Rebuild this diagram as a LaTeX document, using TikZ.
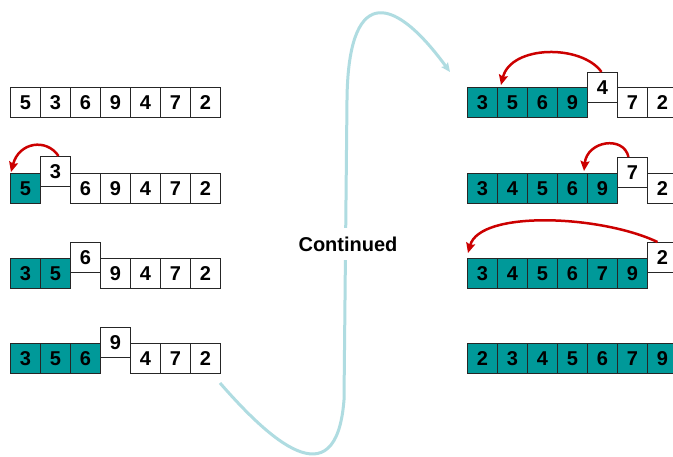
\documentclass[tikz,border=0pt]{standalone}
\usepackage{fontspec}
\setmainfont{Liberation Sans}
\usetikzlibrary{arrows.meta,calc}
\definecolor{tealfill}{RGB}{0,153,153}
\definecolor{arrred}{RGB}{204,0,0}
\definecolor{flowcyan}{RGB}{175,220,225}
\tikzset{
  cell/.style={draw=black!85, line width=1pt, fill=white, minimum width=30pt, minimum height=30pt,
    inner sep=0pt, anchor=north west, font=\fontsize{20}{20}\selectfont\bfseries},
  tcell/.style={cell, fill=tealfill},
  movearrow/.style={draw=arrred, line width=2.5pt, -{Stealth[length=10pt,width=9pt,inset=1.5pt]}},
  flow/.style={draw=flowcyan, line width=3pt, -{Stealth[length=9pt,width=8pt,inset=1.5pt]}},
  lbl/.style={font=\fontsize{20}{20}\selectfont\bfseries, fill=white, inner xsep=2pt, inner ysep=9pt}
}
\begin{document}
\begin{tikzpicture}[x=1pt,y=-1pt]
\clip (0,0) rectangle (673,457);
\fill[white] (0,0) rectangle (673,457);
% flow curve
\coordinate (fs) at (220,383);
\coordinate (fe) at (450,72);
\draw[flow] (fs) .. controls (268,438) and (336,502) .. (344,400) -- (347,100)
  .. controls (348,-10) and (390,-10) .. (fe);
\node[lbl] (cont) at (348,244) {Continued};
% left row 1
\foreach \d [count=\i] in {5,3,6,9,4,7,2}
  \node[cell] (a\i) at ({10+30*(\i-1)},87) {\d};
% left row 2
\node[tcell] (b1) at (10,173) {5};
\node[cell] (b2) at (40,156) {3};
\foreach \d [count=\i from 3] in {6,9,4,7,2}
  \node[cell] (b\i) at ({10+30*(\i-1)},173) {\d};
% left row 3
\foreach \d [count=\i] in {3,5}
  \node[tcell] (c\i) at ({10+30*(\i-1)},258) {\d};
\node[cell] (c3) at (70,242) {6};
\foreach \d [count=\i from 4] in {9,4,7,2}
  \node[cell] (c\i) at ({10+30*(\i-1)},258) {\d};
% left row 4
\foreach \d [count=\i] in {3,5,6}
  \node[tcell] (d\i) at ({10+30*(\i-1)},343) {\d};
\node[cell] (d4) at (100,327) {9};
\foreach \d [count=\i from 5] in {4,7,2}
  \node[cell] (d\i) at ({10+30*(\i-1)},343) {\d};
% right row 1
\foreach \d [count=\i] in {3,5,6,9}
  \node[tcell] (e\i) at ({467+30*(\i-1)},87) {\d};
\node[cell] (e5) at (587,72) {4};
\foreach \d [count=\i from 6] in {7,2}
  \node[cell] (e\i) at ({467+30*(\i-1)},87) {\d};
% right row 2
\foreach \d [count=\i] in {3,4,5,6,9}
  \node[tcell] (f\i) at ({467+30*(\i-1)},173) {\d};
\node[cell] (f6) at (617,157) {7};
\node[cell] (f7) at (647,173) {2};
% right row 3
\foreach \d [count=\i] in {3,4,5,6,7,9}
  \node[tcell] (g\i) at ({467+30*(\i-1)},258) {\d};
\node[cell] (g7) at (647,242) {2};
% right row 4
\foreach \d [count=\i] in {2,3,4,5,6,7,9}
  \node[tcell] (h\i) at ({467+30*(\i-1)},343) {\d};
% insertion arrows
\draw[movearrow] ($(b2.north)+(3,0)$) .. controls +(-12,-18) and +(8,-30) .. ($(b1.north west)+(1,-1)$);
\draw[movearrow] ($(e5.north)+(-1,0)$) .. controls +(-20,-28) and +(10,-40) .. ($(e1.north east)+(3,-2)$);
\draw[movearrow] ($(f6.north)+(-4,0)$) .. controls +(-5,-22) and +(3,-30) .. ($(f4.north east)+(-4,-2)$);
\draw[movearrow] ($(g7.north)+(-5,0)$) .. controls +(-57,-27) and +(12,-43) .. ($(g1.north west)+(1,-5)$);
\end{tikzpicture}
\end{document}
